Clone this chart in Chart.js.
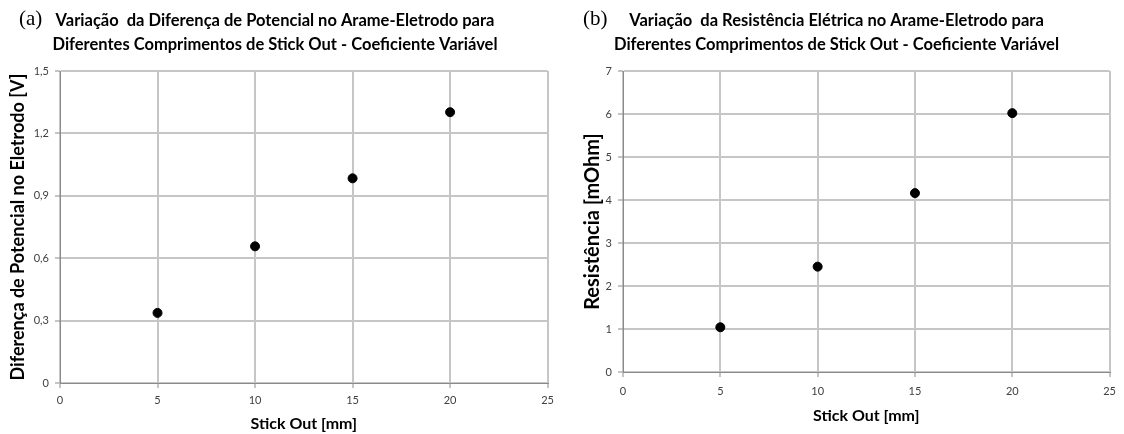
<!DOCTYPE html>
<html>
<head>
<meta charset="utf-8">
<script src="https://cdn.jsdelivr.net/npm/chart.js@4"></script>
<style>
  body { margin: 0; background: #fff; }
  .painel { position: absolute; top: 0; height: 434px; }
  .letra { position: absolute; top: 6px; font-family: "Liberation Serif", serif; font-size: 21px; color: #000; }
</style>
</head>
<body>
<div class="painel" style="left:0;width:560px">
  <canvas id="grafico-tensao" width="560" height="434"></canvas>
  <span class="letra" style="left:19px">(a)</span>
</div>
<div class="painel" style="left:560px;width:564px">
  <canvas id="grafico-resistencia" width="564" height="434"></canvas>
  <span class="letra" style="left:23px">(b)</span>
</div>

<script>
const stickOut = [5, 10, 15, 20];
const tensao = [0.337, 0.657, 0.984, 1.302];
const resistencia = [1.04, 2.45, 4.16, 6.02];
const ticksX = [0, 5, 10, 15, 20, 25];

const fonte = "Lato, 'Open Sans', sans-serif";
const corGrade = '#c6c6c6';
const corEixo = '#8a8a8a';

function pontos(valores) {
  return stickOut.map((x, i) => ({ x: x, y: valores[i] }));
}

function criarGrafico(id, cfg) {
  const ctx = document.getElementById(id).getContext("2d");
  return new Chart(ctx, {
    type: 'scatter',
    data: {
      datasets: [{
        data: pontos(cfg.valores),
        backgroundColor: '#000',
        borderColor: '#000',
        pointRadius: 4.5,
        pointHoverRadius: 4.5
      }]
    },
    options: {
      responsive: false,
      animation: false,
      layout: { padding: { left: 0, right: cfg.padDireita, top: 0, bottom: 0 } },
      plugins: {
        legend: { display: false },
        tooltip: { enabled: false },
        title: {
          display: true,
          text: cfg.titulo,
          color: '#000',
          font: { family: fonte, size: 16.5, weight: 'bold', lineHeight: 1.5 },
          padding: { top: 8, bottom: 13.5 }
        }
      },
      scales: {
        x: {
          type: 'linear',
          min: 0,
          max: 25,
          afterBuildTicks: (eixo) => { eixo.ticks = ticksX.map(v => ({ value: v })); },
          afterFit: (eixo) => { eixo.height = cfg.alturaX; },
          grid: { color: corGrade, lineWidth: 2, tickLength: 5, tickColor: corEixo, tickWidth: 1 },
          border: { color: corEixo, width: 1 },
          ticks: { color: '#404040', font: { family: fonte, size: 11 }, padding: cfg.padTickX },
          title: {
            display: true,
            text: 'Stick Out [mm]',
            color: '#000',
            font: { family: fonte, size: 16, weight: 'bold' },
            padding: { top: 0, bottom: cfg.padTituloX }
          }
        },
        y: {
          min: 0,
          max: cfg.maxY,
          afterFit: (eixo) => { eixo.width = cfg.larguraY; },
          grid: { color: corGrade, lineWidth: 2, tickLength: 5, tickColor: corEixo, tickWidth: 1 },
          border: { color: corEixo, width: 1 },
          ticks: {
            stepSize: cfg.passoY,
            color: '#404040',
            font: { family: fonte, size: 11 },
            padding: 6,
            callback: cfg.formato
          },
          title: {
            display: true,
            text: cfg.tituloY,
            color: '#000',
            font: { family: fonte, size: cfg.tamTituloY, weight: 'bold' },
            padding: { top: cfg.padTituloY, bottom: 0 }
          }
        }
      }
    }
  });
}

criarGrafico("grafico-tensao", {
  valores: tensao,
  titulo: ['Variação  da Diferença de Potencial no Arame-Eletrodo para',
           'Diferentes Comprimentos de Stick Out - Coeficiente Variável'],
  tituloY: 'Diferença de Potencial no Eletrodo [V]',
  tamTituloY: 18,
  maxY: 1.5,
  passoY: 0.3,
  formato: (v) => v === 0 ? '0' : v.toFixed(1).replace('.', ','),
  larguraY: 60,
  alturaX: 51,
  padDireita: 10,
  padTickX: 6,
  padTituloX: 0.5,
  padTituloY: 7
});

criarGrafico("grafico-resistencia", {
  valores: resistencia,
  titulo: ['Variação  da Resistência Elétrica no Arame-Eletrodo para',
           'Diferentes Comprimentos de Stick Out - Coeficiente Variável'],
  tituloY: 'Resistência [mOhm]',
  tamTituloY: 20,
  maxY: 7,
  passoY: 1,
  formato: (v) => String(v),
  larguraY: 63,
  alturaX: 62,
  padDireita: 11,
  padTickX: 8,
  padTituloX: 8.5,
  padTituloY: 21
});
</script>
</body>
</html>
